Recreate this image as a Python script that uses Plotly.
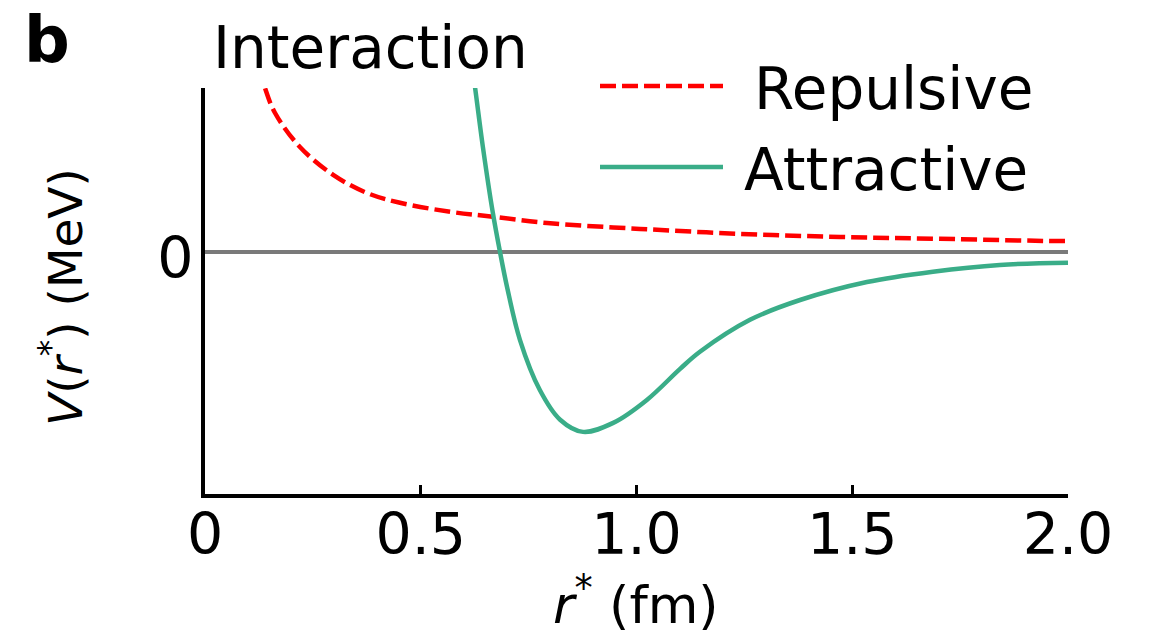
import plotly.graph_objects as go

# ---- data ----
rep_r = [0.125, 0.139, 0.162, 0.220, 0.297, 0.375, 0.452, 0.568, 0.667, 0.793,
         1.008, 1.240, 1.472, 1.703, 1.965, 2.0]
rep_v = [41.0, 36.4, 30.9, 23.3, 17.1, 13.1, 10.9, 8.9, 7.8, 6.4,
         5.1, 4.0, 3.3, 2.9, 2.4, 2.4]

att_r = [0.615, 0.626, 0.644, 0.667, 0.684, 0.700, 0.730, 0.776, 0.823, 0.876,
         0.946, 1.024, 1.101, 1.147, 1.263, 1.379, 1.534, 1.687, 1.842, 2.0]
att_v = [44.0, 36.4, 23.3, 8.7, -0.2, -7.8, -19.6, -30.7, -37.3, -40.0,
         -38.0, -32.9, -26.0, -22.2, -15.1, -10.7, -6.7, -4.4, -2.9, -2.4]

x_tickvals = [0, 0.5, 1.0, 1.5, 2.0]
x_ticktext = ["0", "0.5", "1.0", "1.5", "2.0"]
y_tickvals = [0]
y_ticktext = ["0"]

RED = "#ff0000"
GREEN = "#3aad88"
FONT = "DejaVu Sans"

W, H = 1149, 638
L, R, T, B = 205, 81, 88, 144
PW, PH = W - L - R, H - T - B


def px(x):
    return (x - L) / PW


def py(y):
    return (H - B - y) / PH


fig = go.Figure()
fig.add_trace(go.Scatter(x=rep_r, y=rep_v, mode="lines", name="Repulsive",
                         line=dict(color=RED, width=4.5, dash="16px,6px", shape="spline", smoothing=1.0),
                         showlegend=False))
fig.add_trace(go.Scatter(x=att_r, y=att_v, mode="lines", name="Attractive",
                         line=dict(color=GREEN, width=4.5, shape="spline", smoothing=1.0),
                         showlegend=False))

# legend drawn manually
fig.add_shape(type="line", xref="paper", yref="paper", x0=px(600), x1=px(723), y0=py(86), y1=py(86),
              line=dict(color=RED, width=4.5, dash="16px,6px"))
fig.add_shape(type="line", xref="paper", yref="paper", x0=px(600), x1=px(723), y0=py(167), y1=py(167),
              line=dict(color=GREEN, width=4.5))

anns = [
    dict(text="Repulsive", x=px(752), y=py(89), xanchor="left", size=58),
    dict(text="Attractive", x=px(742), y=py(170), xanchor="left", size=58),
    dict(text="Interaction", x=px(211), y=py(48), xanchor="left", size=58),
    dict(text="<b>b</b>", x=px(22), y=py(40), xanchor="left", size=64),
    dict(text="<i>r</i><sup>*</sup> (fm)", x=px(636), y=py(601), xanchor="center", size=52),
]
for a in anns:
    fig.add_annotation(text=a["text"], x=a["x"], y=a["y"], xref="paper", yref="paper",
                       xanchor=a["xanchor"], yanchor="middle", showarrow=False,
                       font=dict(family=FONT, size=a["size"], color="black"))
fig.add_annotation(text="<i>V</i>(<i>r</i><sup>*</sup>) (MeV)", x=px(62), y=py(297),
                   xref="paper", yref="paper", xanchor="center", yanchor="middle",
                   textangle=-90, showarrow=False,
                   font=dict(family=FONT, size=47, color="black"))

fig.update_layout(
    width=W, height=H,
    margin=dict(l=L, r=R, t=T, b=B),
    paper_bgcolor="white", plot_bgcolor="white",
    font=dict(family=FONT, color="black"),
    xaxis=dict(range=[0, 2.0], tickvals=x_tickvals, ticktext=x_ticktext,
               ticks="inside", ticklen=9, tickwidth=3, tickcolor="black",
               showline=True, linecolor="black", linewidth=4,
               showgrid=False, zeroline=False,
               tickfont=dict(family=FONT, size=57, color="black"), ticklabelstandoff=-12),
    yaxis=dict(range=[-53.8, 36.4], tickvals=y_tickvals, ticktext=y_ticktext,
               ticks="", showline=True, linecolor="black", linewidth=4,
               showgrid=False, zeroline=True, zerolinecolor="#7a7a7a", zerolinewidth=4,
               tickfont=dict(family=FONT, size=57, color="black"),
               ticklabelstandoff=-4, ticklabelshift=6),
)

fig.write_html("out.html")
